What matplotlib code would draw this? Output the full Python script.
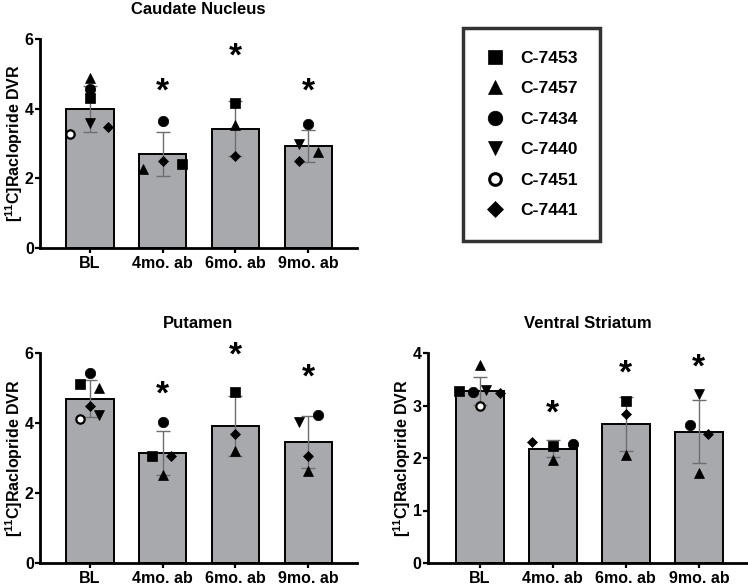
import numpy as np
import matplotlib
matplotlib.use("Agg")
import matplotlib.pyplot as plt
from matplotlib.lines import Line2D

plt.rcParams['font.family'] = ['Liberation Sans', 'DejaVu Sans']
plt.rcParams['font.weight'] = 'bold'
plt.rcParams['mathtext.fontset'] = 'custom'
plt.rcParams['mathtext.bf'] = 'Liberation Sans:bold'
plt.rcParams['mathtext.rm'] = 'Liberation Sans:bold'

nan = np.nan
groups = ["BL", "4mo. ab", "6mo. ab", "9mo. ab"]
subjects = ["C-7453", "C-7457", "C-7434", "C-7440", "C-7451", "C-7441"]

# rows = subjects, cols = groups
caudate_pts = [
    [4.30, 2.42, 4.15, nan],
    [4.87, 2.26, 3.53, 2.75],
    [4.57, 3.66, nan, 3.56],
    [3.58, nan, nan, 2.98],
    [3.27, nan, nan, nan],
    [3.46, 2.49, 2.63, 2.49],
]
caudate_mean = [3.99, 2.70, 3.43, 2.93]
caudate_sd = [0.67, 0.63, 0.78, 0.46]
caudate_star = [nan, 4.65, 5.63, 4.65]

putamen_pts = [
    [5.11, 3.07, 4.90, nan],
    [5.00, 2.51, 3.19, 2.62],
    [5.43, 4.03, nan, 4.23],
    [4.22, nan, nan, 4.02],
    [4.11, nan, nan, nan],
    [4.49, 3.05, 3.70, 3.07],
]
putamen_mean = [4.70, 3.15, 3.92, 3.46]
putamen_sd = [0.54, 0.63, 0.86, 0.75]
putamen_star = [nan, 4.95, 6.08, 5.43]

vs_pts = [
    [3.28, 2.22, 3.08, nan],
    [3.77, 1.96, 2.06, 1.71],
    [3.25, 2.27, nan, 2.63],
    [3.29, nan, nan, 3.21],
    [3.00, nan, nan, nan],
    [3.23, 2.31, 2.84, 2.46],
]
vs_mean = [3.28, 2.18, 2.65, 2.50]
vs_sd = [0.27, 0.16, 0.52, 0.60]
vs_star = [nan, 2.95, 3.71, 3.81]

# horizontal jitter of the points (layout only)
caudate_dx = [[0, 0.26, 0, 0], [0, -0.27, 0, 0.13], [0, 0, 0, 0],
              [0, 0, 0, -0.13], [-0.27, 0, 0, 0], [0.25, 0, 0, -0.13]]
putamen_dx = [[-0.13, -0.14, 0, 0], [0.13, 0, 0, 0], [0, 0, 0, 0.13],
              [0.13, 0, 0, -0.13], [-0.13, 0, 0, 0], [0, 0.12, 0, 0]]
vs_dx = [[-0.28, 0, 0, 0], [0, 0, 0, 0], [-0.09, 0.27, 0, -0.12],
         [0.09, 0, 0, 0], [0, 0, 0, 0], [0.28, -0.28, 0, 0.13]]

markers = ['s', '^', 'o', 'v', 'o', 'D']
faces = ['black', 'black', 'black', 'black', 'white', 'black']
msizes = [7, 7.5, 7.5, 7.5, 6, 5.5]

fig = plt.figure(figsize=(7.48, 5.86), dpi=100)


def panel(rect, title, pts, mean, sd, star, dx, yticks, xlim):
    ax = fig.add_axes(rect)
    x = np.arange(len(groups))
    ax.bar(x, mean, width=0.65, color='#a7a9ac', edgecolor='black',
           linewidth=1.4, zorder=1)
    ax.errorbar(x, mean, yerr=sd, fmt='none', ecolor='#6d6e70',
                elinewidth=1, capsize=5, capthick=1, zorder=2)
    for i in range(len(subjects)):
        ax.plot(x + np.array(dx[i]), pts[i], linestyle='none',
                marker=markers[i], markersize=msizes[i],
                markerfacecolor=faces[i], markeredgecolor='black',
                markeredgewidth=1.6 if faces[i] == 'white' else 0.5,
                zorder=3, clip_on=False)
    for j, s in enumerate(star):
        if not np.isnan(s):
            ax.annotate('*', (x[j], s), xytext=(0, -4),
                        textcoords='offset points', ha='center',
                        va='center', fontsize=24, fontweight='bold',
                        annotation_clip=False)
    ax.set_ylim(yticks[0], yticks[-1])
    ax.set_xlim(*xlim)
    ax.set_yticks(yticks)
    ax.set_xticks(x)
    ax.set_xticklabels(groups)
    ax.tick_params(labelsize=11.5, width=1.6, length=3.5, direction='out')
    ax.tick_params(axis='y', pad=1)
    ax.tick_params(axis='x', pad=2)
    for sp in ['top', 'right']:
        ax.spines[sp].set_visible(False)
    for sp in ['left', 'bottom']:
        ax.spines[sp].set_linewidth(2)
    ax.set_ylabel(r'[$^{\mathbf{11}}$C]Raclopride DVR', fontsize=11.5,
                  fontweight='bold', labelpad=0)
    ax.set_title(title, fontsize=12, fontweight='bold', pad=18)
    return ax


panel([40 / 748, 1 - 248 / 586, 317 / 748, 209 / 586], 'Caudate Nucleus',
      caudate_pts, caudate_mean, caudate_sd, caudate_star, caudate_dx,
      [0, 2, 4, 6], (-0.685, 3.67))
panel([40 / 748, 1 - 563 / 586, 317 / 748, 210 / 586], 'Putamen',
      putamen_pts, putamen_mean, putamen_sd, putamen_star, putamen_dx,
      [0, 2, 4, 6], (-0.685, 3.67))
panel([428 / 748, 1 - 563 / 586, 319 / 748, 210 / 586], 'Ventral Striatum',
      vs_pts, vs_mean, vs_sd, vs_star, vs_dx,
      [0, 1, 2, 3, 4], (-0.71, 3.66))

handles = [Line2D([], [], linestyle='none', marker=markers[i],
                  markersize=msizes[i] * 1.4, markerfacecolor=faces[i],
                  markeredgecolor='black',
                  markeredgewidth=2.2 if faces[i] == 'white' else 0.5)
           for i in range(len(subjects))]
leg = fig.legend(handles, subjects, loc='upper left',
                 bbox_to_anchor=(463 / 748, 1 - 28 / 586),
                 prop={'size': 12.6, 'weight': 'bold'}, frameon=True,
                 fancybox=False, edgecolor='black', borderpad=1.3,
                 labelspacing=0.87, handletextpad=0.97, borderaxespad=0,
                 handlelength=1.0)
leg.get_frame().set_linewidth(2.5)

fig.savefig('out.png', dpi=100)
